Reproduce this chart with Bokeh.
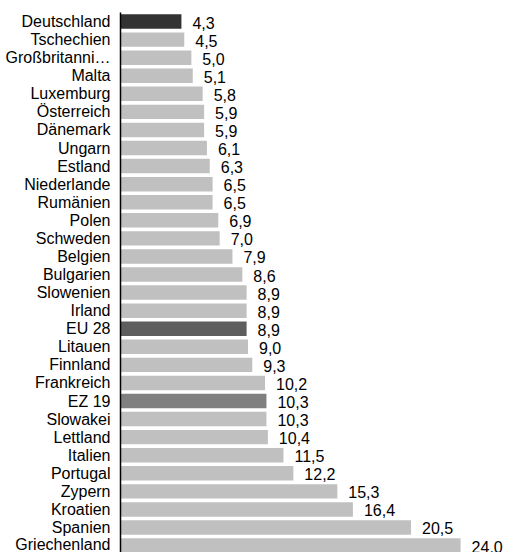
from bokeh.plotting import figure
from bokeh.models import ColumnDataSource, Range1d, FixedTicker
from bokeh.core.properties import value
from bokeh.embed import file_html
from bokeh.resources import INLINE

# Rows from top to bottom
countries = ["Deutschland", "Tschechien", "Großbritanni…", "Malta", "Luxemburg",
             "Österreich", "Dänemark", "Ungarn", "Estland", "Niederlande",
             "Rumänien", "Polen", "Schweden", "Belgien", "Bulgarien",
             "Slowenien", "Irland", "EU 28", "Litauen", "Finnland",
             "Frankreich", "EZ 19", "Slowakei", "Lettland", "Italien",
             "Portugal", "Zypern", "Kroatien", "Spanien", "Griechenland"]
rates = [4.3, 4.5, 5.0, 5.1, 5.8, 5.9, 5.9, 6.1, 6.3, 6.5,
         6.5, 6.9, 7.0, 7.9, 8.6, 8.9, 8.9, 8.9, 9.0, 9.3,
         10.2, 10.3, 10.3, 10.4, 11.5, 12.2, 15.3, 16.4, 20.5, 24.0]

highlight = {"Deutschland": "#333333", "EU 28": "#5e5e5e", "EZ 19": "#808080"}
base_color = "#c0c0c0"

W, H = 510, 552
LEFT, TOP = 120, 12
PX_PER_UNIT = 14.17
ROW_PX = 18.07

rows = list(range(len(countries)))
colors = [highlight.get(c, base_color) for c in countries]
labels = [f"{v:.1f}".replace(".", ",") for v in rates]

src = ColumnDataSource(dict(y=rows, rate=rates, color=colors, label=labels))

frame_w = W - LEFT
frame_h = H - TOP
p = figure(width=W, height=H, output_backend="svg", toolbar_location=None,
           x_range=Range1d(0, frame_w / PX_PER_UNIT),
           y_range=Range1d(-0.5 + frame_h / ROW_PX, -0.5),
           x_axis_location=None, min_border_left=LEFT, min_border_top=TOP,
           min_border_right=0, min_border_bottom=0)
p.outline_line_color = None
p.grid.visible = False
p.background_fill_color = "white"
p.border_fill_color = "white"

p.hbar(y="y", left=0, right="rate", height=0.8, color="color",
       line_color=None, source=src)

p.text(x="rate", y="y", text="label", source=src, x_offset=11, y_offset=1,
       text_font=value("Liberation Sans"), text_font_size="16px",
       text_color="black", text_baseline="middle", text_align="left")

ax = p.yaxis[0]
ax.ticker = FixedTicker(ticks=rows)
ax.major_label_overrides = {i: c for i, c in zip(rows, countries)}
ax.major_label_text_font = "Liberation Sans"
ax.major_label_text_font_size = "16px"
ax.major_label_text_color = "black"
ax.major_label_standoff = 10
ax.major_tick_line_color = None
ax.major_tick_out = 0
ax.major_tick_in = 0
ax.minor_tick_line_color = None
ax.minor_tick_out = 0
ax.minor_tick_in = 0
ax.axis_line_color = "black"
ax.axis_line_width = 1.5

open("out.html", "w").write(file_html(p, INLINE))
